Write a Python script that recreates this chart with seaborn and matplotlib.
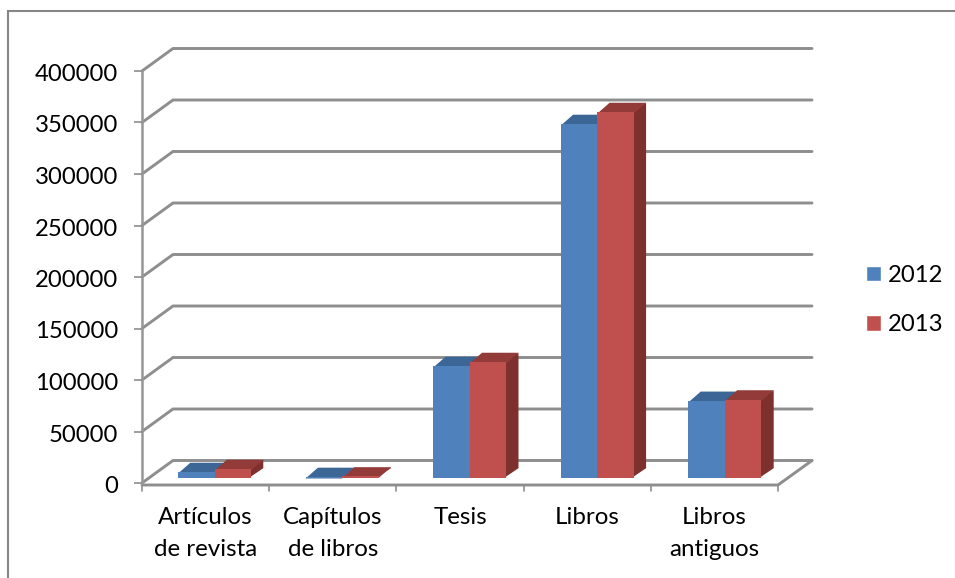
import matplotlib
matplotlib.use("Agg")
import matplotlib.pyplot as plt
import numpy as np
import pandas as pd
import seaborn as sns
from matplotlib.lines import Line2D
from matplotlib.patches import Polygon
from matplotlib.transforms import IdentityTransform, Affine2D

categories = ["Artículos\nde revista", "Capítulos\nde libros", "Tesis", "Libros", "Libros\nantiguos"]
values_2012 = [5300, 500, 108200, 343200, 74400]
values_2013 = [8200, 1000, 112100, 354800, 75700]
years = ["2012", "2013"]
y_ticks = [0, 50000, 100000, 150000, 200000, 250000, 300000, 350000, 400000]
front_colors = ["#4F81BD", "#C0504D"]
top_colors = ["#3C6696", "#933B38"]
side_colors = ["#38597F", "#7D302E"]
line_color = "#8E8E8E"

W, H = 955, 578
sns.set_theme(style="white")
plt.rcParams["font.family"] = ["Lato", "DejaVu Sans"]
FS = 17.2

df = pd.DataFrame({
    "categoria": categories * 2,
    "valor": values_2012 + values_2013,
    "anio": [years[0]] * len(categories) + [years[1]] * len(categories),
})

fig = plt.figure(figsize=(W / 100, H / 100), dpi=100, facecolor="white")


def box(left, right, top, bottom):
    return [left / W, 1 - bottom / H, (right - left) / W, (bottom - top) / H]


# Frame axes: the chart's front plane (value axis and category axis)
ax = fig.add_axes(box(142, 778, 71, 483), zorder=1)
ax.set_xlim(0, 5)
ax.set_ylim(0, 400000)
ax.patch.set_visible(False)
for s in ["top", "right", "bottom"]:
    ax.spines[s].set_visible(False)
ax.spines["left"].set_color("#969696")
ax.spines["left"].set_linewidth(1.8)
ax.set_yticks(y_ticks)
ax.set_yticklabels([str(v) for v in y_ticks], fontsize=FS, color="black")
ax.tick_params(axis="y", length=6, width=1.2, color=line_color, pad=11, left=True)
for lab in ax.get_yticklabels():
    lab.set_verticalalignment("center_baseline")
    lab.set_transform(lab.get_transform() + Affine2D().translate(0, -1.5))
ax.set_xticks(np.arange(6))
ax.set_xticklabels([""] * 6)
ax.set_xticks(np.arange(5) + 0.5, minor=True)
ax.set_xticklabels(categories, minor=True, fontsize=FS + 0.2, color="black", linespacing=1.68)
ax.tick_params(axis="x", which="minor", length=0, pad=17, bottom=True)
ax.tick_params(axis="x", which="major", length=0, bottom=False)

ident = IdentityTransform()


def to_px(x, y, dx=0, dy=0):
    p = ax.transData.transform((x, y))
    return p[0] + dx, p[1] + dy


# Wall gridlines and floor, derived from the axis scale
for v in y_ticks:
    a = to_px(0, v)
    b = to_px(0, v, 31, 22.5)
    c = to_px(5, v, 34, 22.5)
    ax.plot([a[0], b[0], c[0]], [a[1], b[1], c[1]], color=line_color, lw=2.1,
            transform=ident, clip_on=False, solid_joinstyle="miter", zorder=1)
a = to_px(0, 0, 0, -2)
b = to_px(5, 0, 0, -2)
c = to_px(5, 0, 34, 22.5)
ax.plot([a[0], b[0], c[0]], [a[1], b[1], c[1]], color=line_color, lw=2.1,
        transform=ident, clip_on=False, zorder=1)
for i in range(6):
    p = to_px(i, 0, 0, -2)
    ax.plot([p[0], p[0]], [p[1], p[1] - 6], color=line_color, lw=1.2,
            transform=ident, clip_on=False, zorder=1)
ax.set_xlim(0, 5)
ax.set_ylim(0, 400000)

# Bars axes: the plane the bar fronts stand on
bx = fig.add_axes(box(150.7, 788.7, 65.5, 477.5), zorder=2)
sns.barplot(data=df, x="categoria", y="valor", hue="anio", hue_order=years,
            order=categories, palette=front_colors, width=0.572, gap=0,
            saturation=1, ax=bx, errorbar=None)
bx.set_ylim(0, 400000)
bx.set_xlim(-0.5, 4.5)
bx.axis("off")
bx.patch.set_visible(False)

DX, DY = 12.3, 9.3
for h, container in enumerate(bx.containers):
    for bar in container:
        x0, y0 = bar.get_x(), bar.get_y()
        x1, y1 = x0 + bar.get_width(), y0 + bar.get_height()
        tl = bx.transData.transform((x0, y1))
        tr = bx.transData.transform((x1, y1))
        br = bx.transData.transform((x1, y0))
        z = 3 + 3 * h
        side = [tr - (1.5, 0), tr + (DX, DY), br + (DX, DY), br - (1.5, 0)]
        top = [tl - (0, 1.5), tl + (DX, DY), tr + (DX, DY), tr - (0, 1.5)]
        bx.add_patch(Polygon(side, closed=True, transform=ident, facecolor=side_colors[h],
                             edgecolor="none", zorder=z, clip_on=False))
        bx.add_patch(Polygon(top, closed=True, transform=ident, facecolor=top_colors[h],
                             edgecolor="none", zorder=z + 1, clip_on=False))
        bar.set_zorder(z + 2)
        bar.set_edgecolor("none")
        bar.set_linewidth(0)

handles, labels = bx.get_legend_handles_labels()
bx.legend(handles, labels, loc="upper left", bbox_to_anchor=(866 / W, 1 - 265 / H),
          bbox_transform=fig.transFigure, frameon=False, borderpad=0, borderaxespad=0,
          fontsize=FS, handlelength=0.62, handleheight=0.62, handletextpad=0.3,
          labelspacing=1.19, labelcolor="black")

# Chart area border (only left and top edges fall inside the picture)
fig.add_artist(Line2D([8 / W, 8 / W, 1], [0, 1 - 11 / H, 1 - 11 / H], color="#868686", lw=1.5,
                      transform=fig.transFigure, solid_joinstyle="miter"))

fig.savefig("out.png", dpi=100, facecolor="white")
